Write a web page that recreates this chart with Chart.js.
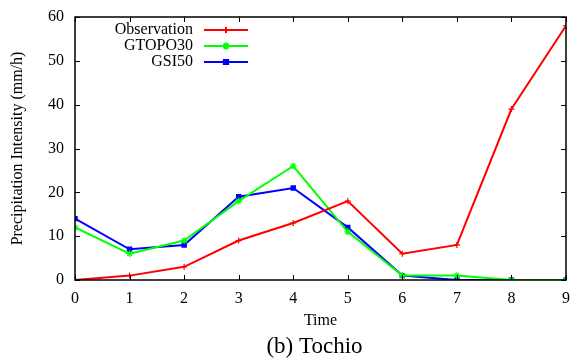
<!DOCTYPE html>
<html>
<head>
<meta charset="utf-8">
<script src="https://cdn.jsdelivr.net/npm/chart.js@4/dist/chart.umd.min.js"></script>
<style>
  body { margin: 0; background: #fff; }
</style>
</head>
<body>
<canvas id="myChart" width="574" height="359"></canvas>
<script>
const hours = [0, 1, 2, 3, 4, 5, 6, 7, 8, 9];
const observation = [0, 1, 3, 9, 13, 18, 6, 8, 39, 58];
const gtopo30 = [12, 6, 9, 18, 26, 11, 1, 1, 0, 0];
const gsi50 = [14, 7, 8, 19, 21, 12, 1, 0, 0, 0];
const yTicks = [0, 10, 20, 30, 40, 50, 60];
const xTitle = 'Time';
const yTitle = 'Precipitation Intensity (mm/h)';
const caption = '(b) Tochio';

const serif = '"Liberation Serif", "DejaVu Serif", serif';

// inner ticks on all four sides, frame, axis titles, gnuplot style key and caption
const decor = {
  id: 'decor',
  afterDatasetsDraw(chart) {
    const ctx = chart.ctx;
    const a = chart.chartArea;
    const xs = chart.scales.x, ys = chart.scales.y;
    ctx.save();
    ctx.strokeStyle = '#000';
    ctx.lineWidth = 1;
    ctx.beginPath();
    hours.forEach(h => {
      const px = Math.round(xs.getPixelForValue(h)) + 0.5;
      ctx.moveTo(px, a.bottom); ctx.lineTo(px, a.bottom - 5);
      ctx.moveTo(px, a.top); ctx.lineTo(px, a.top + 5);
    });
    yTicks.forEach(v => {
      const py = Math.round(ys.getPixelForValue(v)) + 0.5;
      ctx.moveTo(a.left, py); ctx.lineTo(a.left + 5, py);
      ctx.moveTo(a.right, py); ctx.lineTo(a.right - 5, py);
    });
    ctx.stroke();
    ctx.lineWidth = 1.5;
    ctx.strokeRect(a.left, a.top, a.right - a.left, a.bottom - a.top);

    // key
    ctx.font = '16px ' + serif;
    ctx.textAlign = 'right';
    ctx.textBaseline = 'middle';
    chart.data.datasets.forEach((ds, i) => {
      const y = 30 + i * 16;
      ctx.fillStyle = '#000';
      ctx.fillText(ds.label, 193, y);
      ctx.strokeStyle = ds.borderColor;
      ctx.fillStyle = ds.backgroundColor;
      ctx.lineWidth = 2;
      ctx.beginPath();
      ctx.moveTo(204, y); ctx.lineTo(248, y);
      ctx.stroke();
      Chart.helpers.drawPoint(ctx, {
        pointStyle: ds.pointStyle, radius: ds.pointRadius, borderWidth: 1.2
      }, 226, y);
    });

    // axis titles
    ctx.fillStyle = '#000';
    ctx.textAlign = 'center';
    ctx.font = '16px ' + serif;
    ctx.fillText(xTitle, (a.left + a.right) / 2, 321);
    ctx.save();
    ctx.translate(18, (a.top + a.bottom) / 2);
    ctx.rotate(-Math.PI / 2);
    ctx.fillText(yTitle, 0, 0);
    ctx.restore();

    ctx.font = '23px ' + serif;
    ctx.fillText(caption, (a.left + a.right) / 2 - 6, 347);
    ctx.restore();
  }
};

const canvas = document.getElementById('myChart');
const ctx = canvas.getContext('2d');

const data = {
  labels: hours,
  datasets: [{
    label: 'Observation',
    data: observation,
    borderColor: 'rgb(255, 0, 0)',
    backgroundColor: 'rgb(255, 0, 0)',
    pointStyle: 'cross',
    pointRadius: 3
  },
  {
    label: 'GTOPO30',
    data: gtopo30,
    borderColor: 'rgb(0, 255, 0)',
    backgroundColor: 'rgb(0, 255, 0)',
    pointStyle: 'star',
    pointRadius: 3.5
  },
  {
    label: 'GSI50',
    data: gsi50,
    borderColor: 'rgb(0, 0, 255)',
    backgroundColor: 'rgb(0, 0, 255)',
    pointStyle: 'rect',
    pointRadius: 3
  }]
};

const myChart = new Chart(ctx, {
  type: 'line',
  data: data,
  plugins: [decor],
  options: {
    responsive: false,
    animation: false,
    layout: { padding: { top: 17, right: 8, left: 0, bottom: 0 } },
    elements: {
      line: { borderWidth: 2, tension: 0 },
      point: { borderWidth: 1.2, hoverRadius: 3 }
    },
    plugins: { legend: { display: false }, tooltip: { enabled: false } },
    scales: {
      x: {
        type: 'linear',
        min: 0, max: 9,
        afterFit(scale) {
          scale.height = 79;
          scale.paddingLeft = 0;
          scale.paddingRight = 0;
        },
        grid: { display: false, drawTicks: false },
        border: { display: false },
        ticks: {
          stepSize: 1, padding: 9, color: '#000',
          font: { family: serif, size: 16 }
        }
      },
      y: {
        min: 0, max: 60,
        afterFit(scale) {
          scale.width = 75;
          scale.paddingTop = 0;
          scale.paddingBottom = 0;
        },
        grid: { display: false, drawTicks: false },
        border: { display: false },
        ticks: {
          stepSize: 10, padding: 11, color: '#000',
          font: { family: serif, size: 16 }
        }
      }
    }
  }
});
</script>
</body>
</html>
